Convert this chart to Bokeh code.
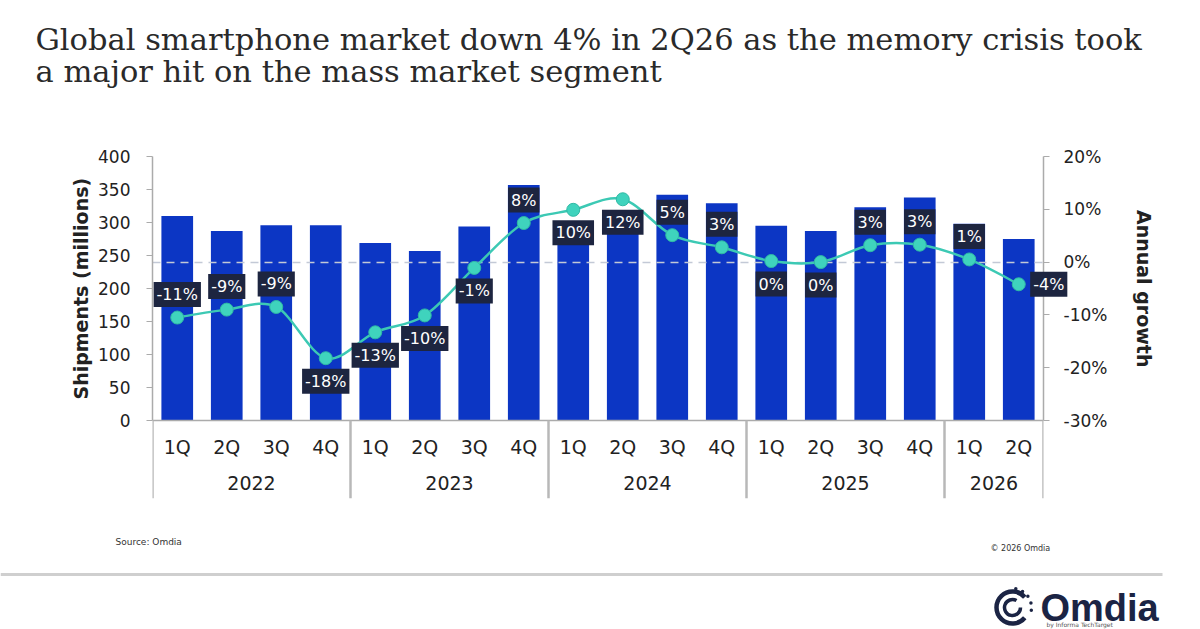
import math
from bokeh.plotting import figure
from bokeh.layouts import column
from bokeh.models import (FactorRange, Range1d, LinearAxis, Label, Title,
                          ColumnDataSource, PrintfTickFormatter, FixedTicker, CDSView,
                          BooleanFilter)
from bokeh.core.properties import value
from bokeh.embed import file_html
from bokeh.resources import INLINE

# ---------------- data ----------------
years = ["2022"] * 4 + ["2023"] * 4 + ["2024"] * 4 + ["2025"] * 4 + ["2026"] * 2
quarters = ["1Q", "2Q", "3Q", "4Q"] * 4 + ["1Q", "2Q"]
shipments = [310, 287, 296, 296, 269, 257, 294, 357, 302, 306, 342, 329,
             295, 287, 323, 338, 298, 275]
growth = [-10.5, -9.0, -8.5, -18.2, -13.3, -10.1, -1.1, 7.4, 9.9, 11.9, 5.1, 2.8,
          0.2, 0.0, 3.2, 3.3, 0.5, -4.2]
growth_labels = ["-11%", "-9%", "-9%", "-18%", "-13%", "-10%", "-1%", "8%", "10%", "12%",
                 "5%", "3%", "0%", "0%", "3%", "3%", "1%", "-4%"]
left_ticks = [0, 50, 100, 150, 200, 250, 300, 350, 400]
right_ticks = [-30, -20, -10, 0, 10, 20]

# label placement (style)
label_side = ["above", "above", "above", "below", "below", "below", "below", "above",
              "below", "below", "above", "above", "below", "below", "above", "above",
              "above", "right"]

BAR = "#0c36c4"
LINE = "#3cc9b4"
BOX = "#1d2540"
AXIS = "#ababab"
SEP = "#b8b8b8"
TXT = "#222222"
NAVY = "#1b2444"
FONT = "DejaVu Sans"

W = 1200
FL, FR, FT, FB = 152, 1043, 156, 420          # value-axis extent in page pixels
AXIS_BOTTOM = 498                              # lower end of the category band
HEAD_H = 110
MAIN_H = 520 - HEAD_H
FOOT_H = 629 - HEAD_H - MAIN_H

L_MIN, L_MAX = 0, 400
G_MIN, G_MAX = -30, 20
band = AXIS_BOTTOM - FB
l_start = L_MIN - band * (L_MAX - L_MIN) / (FB - FT)
g_start = G_MIN - band * (G_MAX - G_MIN) / (FB - FT)

# axis-title placement: centred on the value axes (not on the category band)
AXIS_MID = (FT + FB) / 2
LEFT_TITLE_LEN, RIGHT_TITLE_LEN = 222, 157
left_title_offset = AXIS_BOTTOM - (AXIS_MID + LEFT_TITLE_LEN / 2)
right_title_offset = (AXIS_MID - RIGHT_TITLE_LEN / 2) - FT


def blank(h):
    f = figure(width=W, height=h, x_range=Range1d(0, W), y_range=Range1d(h, 0),
               output_backend="svg", toolbar_location=None,
               min_border_left=0, min_border_right=0,
               min_border_top=0, min_border_bottom=0)
    f.frame_align = False
    f.axis.visible = False
    f.grid.visible = False
    f.outline_line_color = None
    f.background_fill_color = "white"
    f.border_fill_color = "white"
    return f


# ---------------- header ----------------
head = blank(HEAD_H)
head.text(x=[35, 35], y=[39, 71],
          text=["Global smartphone market down 4% in 2Q26 as the memory crisis took",
                "a major hit on the mass market segment"],
          text_font=value("DejaVu Serif"), text_font_size="30.5px", text_color="#2a2a2a",
          text_align="left", text_baseline="alphabetic")

# ---------------- main chart ----------------
factors = list(zip(years, quarters))
n = len(factors)
x_range = FactorRange(*factors, factor_padding=0, group_padding=0,
                      subgroup_padding=0, range_padding=0)

p = figure(width=W, height=MAIN_H, x_range=x_range, y_range=Range1d(l_start, L_MAX),
           output_backend="svg", toolbar_location=None,
           min_border_left=FL, min_border_right=W - FR,
           min_border_top=FT - HEAD_H, min_border_bottom=HEAD_H + MAIN_H - AXIS_BOTTOM)
p.extra_y_ranges = {"g": Range1d(g_start, G_MAX)}
p.xaxis.visible = False
p.outline_line_color = None
p.xgrid.visible = False
p.ygrid.visible = False
p.background_fill_color = "white"
p.border_fill_color = "white"

src = ColumnDataSource(dict(f=factors, s=shipments))
p.vbar(x="f", top="s", width=0.64, source=src, fill_color=BAR, line_color=None)

# category axis line, quarter / year labels and year separators
p.hspan(y=0, line_color=AXIS, line_width=1.5)
p.text(x=factors, y=[0] * n, y_offset=26, text=quarters, text_font=value(FONT),
       text_font_size="19px", text_color=TXT, text_align="center", text_baseline="middle")
xs = [i + 0.5 for i in range(n)]
year_names = list(dict.fromkeys(years))
year_mid = [sum(xs[i] for i in range(n) if years[i] == yv) / years.count(yv)
            for yv in year_names]
p.text(x=year_mid, y=[0] * len(year_names), y_offset=62, text=year_names,
       text_font=value(FONT), text_font_size="19px", text_color=TXT,
       text_align="center", text_baseline="middle")
bounds = [0] + [i for i in range(1, n) if years[i] != years[i - 1]] + [n]
p.segment(x0=bounds, y0=[0] * len(bounds), x1=bounds, y1=[l_start] * len(bounds),
          line_color=SEP, line_width=2.5)

p.hspan(y=0, y_range_name="g", line_color="#c3c9d6", line_width=1.6, line_dash="8 6")

# smooth growth line (Catmull-Rom -> cubic Bezier)
bx0, by0, bx1, by1, cx0, cy0, cx1, cy1 = [], [], [], [], [], [], [], []
for i in range(n - 1):
    x0, y0 = (xs[i - 1], growth[i - 1]) if i > 0 else (xs[i], growth[i])
    x1, y1 = xs[i], growth[i]
    x2, y2 = xs[i + 1], growth[i + 1]
    x3, y3 = (xs[i + 2], growth[i + 2]) if i + 2 < n else (x2, y2)
    bx0.append(x1); by0.append(y1); bx1.append(x2); by1.append(y2)
    cx0.append(x1 + (x2 - x0) / 6); cy0.append(y1 + (y2 - y0) / 6)
    cx1.append(x2 - (x3 - x1) / 6); cy1.append(y2 - (y3 - y1) / 6)
p.bezier(x0=bx0, y0=by0, x1=bx1, y1=by1, cx0=cx0, cy0=cy0, cx1=cx1, cy1=cy1,
         y_range_name="g", line_color=LINE, line_width=2.5)

gsrc = ColumnDataSource(dict(
    f=factors, g=growth, t=growth_labels,
    dy=[-23 if s == "above" else 23 for s in label_side],
))
p.scatter(x="f", y="g", source=gsrc, y_range_name="g", size=13,
          fill_color="#3fd3bd", line_color="#2fb9a4", line_width=1)
inside = CDSView(filter=BooleanFilter([s != "right" for s in label_side]))
p.text(x="f", y="g", text="t", source=gsrc, view=inside, y_range_name="g",
       y_offset="dy",
       text_font=value(FONT), text_font_size="16px", text_color="white",
       text_align="center", text_baseline="middle",
       background_fill_color=BOX, padding=3)

# labels that sit past the right edge of the plot area (kept in a side panel so
# that they are not clipped by the plot frame)
for i, s in enumerate(label_side):
    if s == "right":
        p.add_layout(Label(x=xs[i], y=growth[i], y_range_name="g", x_offset=30,
                           text=growth_labels[i], text_font=FONT, text_font_size="16px",
                           text_color="white", text_align="center", text_baseline="middle",
                           background_fill_color=BOX, padding=3), "above")

# left axis
ya = p.yaxis[0]
ya.ticker = FixedTicker(ticks=left_ticks)
ya.bounds = (L_MIN, L_MAX)
ya.major_label_text_font = FONT
ya.major_label_text_font_size = "17px"
ya.major_label_text_color = TXT
ya.major_label_standoff = 16
ya.axis_line_color = AXIS
ya.axis_line_width = 1.5
ya.major_tick_line_color = AXIS
ya.major_tick_in = 0
ya.major_tick_out = 6
ya.minor_tick_line_color = None

# right axis
ra = LinearAxis(y_range_name="g", ticker=FixedTicker(ticks=right_ticks),
                formatter=PrintfTickFormatter(format="%d%%"), bounds=(G_MIN, G_MAX))
ra.major_label_text_font = FONT
ra.major_label_text_font_size = "17px"
ra.major_label_text_color = TXT
ra.major_label_standoff = 14
ra.axis_line_color = AXIS
ra.axis_line_width = 1.5
ra.major_tick_line_color = AXIS
ra.major_tick_in = 0
ra.major_tick_out = 6
ra.minor_tick_line_color = None
p.add_layout(ra, "right")

# axis titles
p.add_layout(Title(text="Shipments (millions)", align="left", offset=left_title_offset,
                   standoff=7, text_font=FONT, text_font_size="19px",
                   text_font_style="bold", text_color=TXT), "left")
p.add_layout(Title(text="Annual growth", align="left", offset=right_title_offset,
                   standoff=45, text_font=FONT, text_font_size="19px",
                   text_font_style="bold", text_color=TXT), "right")

# ---------------- footer ----------------
foot = blank(FOOT_H)
foot.text(x=[115], y=[21], text=["Source: Omdia"], text_font=value(FONT),
          text_font_size="9px", text_color="#333333", text_baseline="middle")
foot.text(x=[990], y=[28], text=["\u00a9 2026 Omdia"], text_font=value(FONT),
          text_font_size="8px", text_color="#333333", text_baseline="middle")
foot.segment(x0=[0], y0=[54], x1=[1162], y1=[54], line_color="#cfcfcf", line_width=3)
# logo mark
LX, LY = 1012, 87
foot.arc(x=[LX], y=[LY], radius=[16], radius_units="screen",
         start_angle=math.radians(40), end_angle=math.radians(320),
         line_color=NAVY, line_width=4.5)
foot.arc(x=[LX], y=[LY], radius=[8], radius_units="screen",
         start_angle=math.radians(60), end_angle=math.radians(360),
         line_color=NAVY, line_width=3.5)
dot_ang = [math.radians(a) for a in (80, 58, 36, 14, -8)]
foot.scatter(x=[LX + 19 * math.cos(a) for a in dot_ang],
             y=[LY - 19 * math.sin(a) for a in dot_ang],
             size=3.5, fill_color=NAVY, line_color=None)
foot.text(x=[1040], y=[87], text=["Omdia"], text_font=value("Liberation Sans"),
          text_font_size="38px", text_font_style="bold", text_color=NAVY,
          text_baseline="alphabetic")
foot.text(x=[1046], y=[104], text=["by Informa TechTarget"], text_font=value(FONT),
          text_font_size="6px", text_color="#555555", text_baseline="alphabetic")

layout = column(head, p, foot, spacing=0)
open("out.html", "w").write(file_html(layout, INLINE))
